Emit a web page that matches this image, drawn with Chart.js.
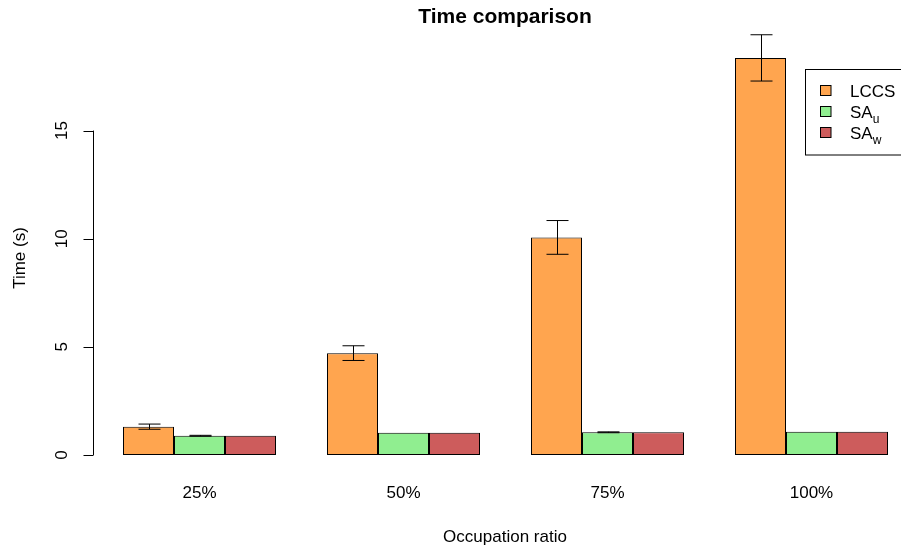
<!DOCTYPE html>
<html>
<head>
<meta charset="utf-8">
<script src="https://cdn.jsdelivr.net/npm/chart.js@4/dist/chart.umd.min.js"></script>
<style>
  html, body { margin: 0; padding: 0; background: #ffffff; }
  #frame { width: 901px; height: 547px; overflow: hidden; position: relative; }
  canvas { display: block; }
</style>
</head>
<body>
<div id="frame"><canvas id="chart" width="930" height="547"></canvas></div>
<script>
// Mean run times (seconds) per occupation ratio, with standard deviations
const categories = ['25%', '50%', '75%', '100%'];
const lccsMean = [1.31, 4.71, 10.06, 18.36];
const lccsSd   = [0.12, 0.34, 0.78, 1.07];
const saUMean  = [0.89, 1.03, 1.05, 1.08];
const saUSd    = [0.02, 0, 0.02, 0];
const saWMean  = [0.89, 1.03, 1.05, 1.08];
const saWSd    = [0, 0, 0, 0];
const yTicks   = [0, 5, 10, 15];

const seriesBase = ['LCCS', 'SA', 'SA'];
const seriesSub  = ['', 'u', 'w'];
const seriesColors = ['#FFA54F', '#90EE90', '#CD5C5C'];
const means = [lccsMean, saUMean, saWMean];
const sds = [lccsSd, saUSd, saWSd];

const titleText = 'Time comparison';
const xTitle = 'Occupation ratio';
const yTitle = 'Time (s)';

const FONT = '"Liberation Sans", Arial, Helvetica, sans-serif';

const decor = {
  id: 'decor',
  afterDatasetsDraw(chart) {
    const ctx = chart.ctx;
    const ys = chart.scales.y;
    ctx.save();
    ctx.strokeStyle = '#000';
    ctx.lineWidth = 1;
    const cap = 11;
    means.forEach((m, d) => {
      const meta = chart.getDatasetMeta(d);
      m.forEach((v, i) => {
        const sd = sds[d][i];
        if (!(sd > 0)) return;
        const x = Math.round(meta.data[i].x) + 0.5;
        const yHi = ys.getPixelForValue(v + sd);
        const yLo = ys.getPixelForValue(v - sd);
        ctx.beginPath();
        ctx.moveTo(x, yHi); ctx.lineTo(x, yLo);
        ctx.moveTo(x - cap, yHi); ctx.lineTo(x + cap, yHi);
        ctx.moveTo(x - cap, yLo); ctx.lineTo(x + cap, yLo);
        ctx.stroke();
      });
    });
    ctx.restore();
  },
  afterDraw(chart) {
    const ctx = chart.ctx;
    const xs = chart.scales.x;
    const ys = chart.scales.y;
    const area = chart.chartArea;
    const midX = 505;
    ctx.save();
    ctx.fillStyle = '#000';
    ctx.strokeStyle = '#000';
    ctx.lineWidth = 1;

    // title
    ctx.font = 'bold 21px ' + FONT;
    ctx.textAlign = 'center';
    ctx.textBaseline = 'alphabetic';
    ctx.fillText(titleText, midX, 23);

    // y axis: line from first to last tick, ticks pointing outwards
    const axX = Math.round(area.left - 5) + 0.5;
    const y0 = ys.getPixelForValue(yTicks[0]);
    const y1 = ys.getPixelForValue(yTicks[yTicks.length - 1]);
    ctx.beginPath();
    ctx.moveTo(axX, y0); ctx.lineTo(axX, y1);
    yTicks.forEach(t => {
      const py = Math.round(ys.getPixelForValue(t)) + 0.5;
      ctx.moveTo(axX, py); ctx.lineTo(axX - 10, py);
    });
    ctx.stroke();

    ctx.font = '17px ' + FONT;
    yTicks.forEach(t => {
      const py = ys.getPixelForValue(t);
      ctx.save();
      ctx.translate(66.5, py);
      ctx.rotate(-Math.PI / 2);
      ctx.textAlign = 'center';
      ctx.fillText(String(t), 0, 0);
      ctx.restore();
    });

    // y title
    ctx.save();
    ctx.translate(25, 258);
    ctx.rotate(-Math.PI / 2);
    ctx.textAlign = 'center';
    ctx.fillText(yTitle, 0, 0);
    ctx.restore();

    // category labels
    ctx.textAlign = 'center';
    categories.forEach((c, i) => {
      ctx.fillText(c, xs.getPixelForValue(i), 498);
    });
    ctx.fillText(xTitle, midX, 541.5);

    // legend
    ctx.strokeRect(805.5, 69.5, 120, 85.5);
    seriesBase.forEach((name, k) => {
      const cy = 90.5 + k * 21;
      ctx.fillStyle = seriesColors[k];
      ctx.fillRect(820.5, cy - 5, 10.5, 10);
      ctx.strokeRect(820.5, cy - 5, 10.5, 10);
      ctx.fillStyle = '#000';
      ctx.textAlign = 'left';
      ctx.font = '17px ' + FONT;
      const base = cy + 6;
      ctx.fillText(name, 850, base);
      if (seriesSub[k]) {
        const w = ctx.measureText(name).width;
        ctx.font = '12px ' + FONT;
        ctx.fillText(seriesSub[k], 850 + w, base + 5);
      }
    });
    ctx.restore();
  }
};

new Chart(document.getElementById('chart'), {
  type: 'bar',
  data: {
    labels: categories,
    datasets: means.map((m, d) => ({
      label: seriesBase[d] + seriesSub[d],
      data: m,
      backgroundColor: seriesColors[d],
      borderColor: '#000',
      borderWidth: 1,
      borderSkipped: false,
      categoryPercentage: 0.75,
      barPercentage: 1.0
    }))
  },
  options: {
    responsive: false,
    animation: false,
    events: [],
    layout: { padding: { left: 97.5, right: 16.5, top: 18.1, bottom: 74.7 } },
    plugins: { legend: { display: false }, title: { display: false }, tooltip: { enabled: false } },
    scales: {
      x: { display: false, offset: true },
      y: { display: false, min: -0.8, max: 20.2 }
    }
  },
  plugins: [decor]
});
</script>
</body>
</html>
